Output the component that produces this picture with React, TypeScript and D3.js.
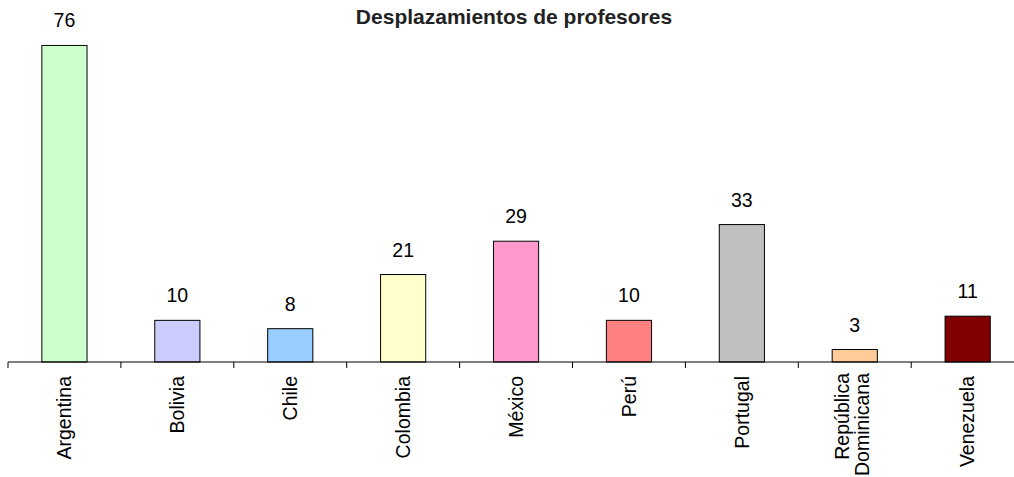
import React from 'react';
import * as d3 from 'd3';

const paises = ['Argentina', 'Bolivia', 'Chile', 'Colombia', 'México', 'Perú', 'Portugal', 'República Dominicana', 'Venezuela'];
const desplazamientos = [76, 10, 8, 21, 29, 10, 33, 3, 11];
const colores = ['#CCFFCC', '#CCCCFF', '#99CCFF', '#FFFFCC', '#FF99CC', '#FF8080', '#C0C0C0', '#FFCC99', '#800000'];

const W = 1014;
const H = 477;

const App = () => {
  // Plot area
  const left = 8;
  const step = 112.9;
  const axisY = 362;

  const x = d3.scaleBand<string>()
    .domain(paises)
    .range([left, left + step * paises.length])
    .paddingInner(0.6)
    .paddingOuter(0.3);

  const y = d3.scaleLinear().domain([0, 80]).range([axisY, axisY - 333.2]);

  const font = 'Liberation Sans, Arial, Helvetica, sans-serif';

  return (
    <svg width={W} height={H} style={{ position: 'absolute', left: 0, top: 0, background: '#fff' }} fontFamily={font}>
      <text x={514} y={24} textAnchor="middle" fontWeight="bold" fontSize={21} fill="#222">
        Desplazamientos de profesores
      </text>

      {paises.map((p, i) => (
        <g key={p}>
          <rect
            x={x(p)}
            y={y(desplazamientos[i])}
            width={x.bandwidth()}
            height={axisY - y(desplazamientos[i])}
            fill={colores[i]}
            stroke="#000"
            strokeWidth={1}
          />
          <text
            x={(x(p) as number) + x.bandwidth() / 2}
            y={y(desplazamientos[i]) - 18}
            textAnchor="middle"
            fontSize={19.5}
            fill="#000"
          >
            {desplazamientos[i]}
          </text>
        </g>
      ))}

      {/* eje x */}
      <line x1={left} x2={W} y1={axisY} y2={axisY} stroke="#000" strokeWidth={1} />
      {d3.range(paises.length + 1).map(i => (
        <line key={i} x1={left + i * x.step()} x2={left + i * x.step()} y1={axisY} y2={axisY + 6} stroke="#000" strokeWidth={1} />
      ))}

      {paises.map(p => {
        const cx = (x(p) as number) + x.bandwidth() / 2;
        const lines = p === 'República Dominicana' ? ['República', 'Dominicana'] : [p];
        return (
          <text
            key={p}
            transform={`translate(${cx},${lines.length === 1 ? 376 : 373}) rotate(-90)`}
            textAnchor="end"
            fontSize={19.5}
            fill="#000"
          >
            {lines.map((l, j) => (
              <tspan key={l} x={0} dy={j === 0 ? (lines.length === 1 ? '0.35em' : '-0.3em') : '1.02em'}>{l}</tspan>
            ))}
          </text>
        );
      })}
    </svg>
  );
};

export default App;
